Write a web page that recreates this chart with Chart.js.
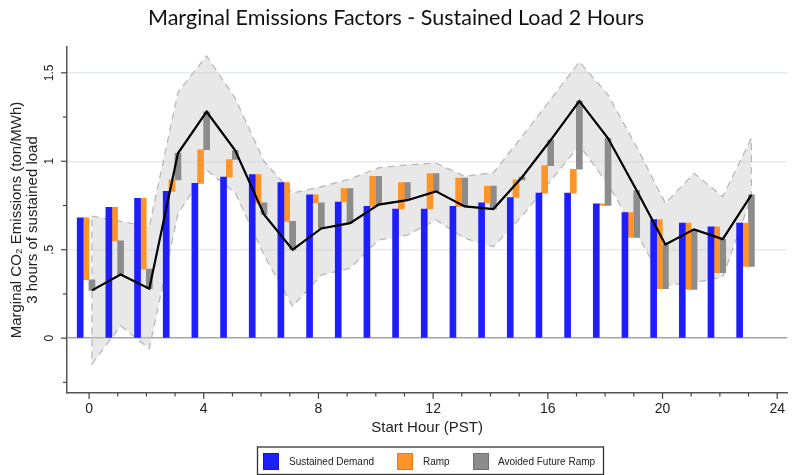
<!DOCTYPE html>
<html>
<head>
<meta charset="utf-8">
<title>Marginal Emissions Factors - Sustained Load 2 Hours</title>
<script src="https://cdn.jsdelivr.net/npm/chart.js@4.4.1/dist/chart.umd.min.js"></script>
<style>
  html, body { margin: 0; padding: 0; background: #ffffff; }
  #wrap { width: 793px; height: 475px; }
</style>
</head>
<body>
<div id="wrap"><canvas id="mef" width="793" height="475"></canvas></div>
<script>
// Start hour of the sustained load (PST)
const hours = [0, 1, 2, 3, 4, 5, 6, 7, 8, 9, 10, 11, 12, 13, 14, 15, 16, 17, 18, 19, 20, 21, 22, 23];

// Components of the marginal emissions factor (ton/MWh)
const sustainedDemand = [0.68, 0.74, 0.79, 0.83, 0.875, 0.91, 0.925, 0.88, 0.81, 0.77, 0.745, 0.73,
                         0.73, 0.745, 0.765, 0.795, 0.82, 0.82, 0.76, 0.71, 0.67, 0.65, 0.63, 0.65];
const ramp = [-0.35, -0.19, -0.40, 0.065, 0.19, 0.10, -0.16, -0.22, -0.045, 0.075, 0.17, 0.15,
              0.20, 0.16, 0.095, 0.10, 0.155, 0.135, -0.01, -0.14, -0.39, -0.375, -0.26, -0.245];
const avoidedFutureRamp = [-0.06, -0.19, -0.11, 0.15, 0.215, 0.05, -0.065, -0.16, -0.145, -0.195, -0.16, -0.10,
                           -0.10, -0.16, -0.13, 0.015, 0.145, 0.385, 0.38, 0.265, 0.25, 0.34, 0.19, 0.405];

// Confidence band around the total factor
const bandUpper = [0.69, 0.66, 0.63, 1.39, 1.595, 1.355, 1.0, 0.82, 0.856, 0.90, 0.963, 0.98,
                   0.99, 0.915, 0.935, 1.14, 1.35, 1.562, 1.375, 1.08, 0.762, 0.932, 0.80, 1.13];
const bandLower = [-0.145, 0.07, -0.06, 0.705, 0.95, 0.82, 0.47, 0.18, 0.357, 0.395, 0.555, 0.583,
                   0.668, 0.565, 0.517, 0.69, 0.89, 1.09, 0.87, 0.593, 0.30, 0.314, 0.345, 0.80];

// Axis ticks
const xTickValues = [0, 4, 8, 12, 16, 20, 24];
const xMinorStep = 1;
const yTickValues = [-0.25, 0, 0.25, 0.5, 0.75, 1, 1.25, 1.5];
const yLabelValues = [0, 0.5, 1, 1.5];
const yLabelText = ['0', '.5', '1', '1.5'];

const seriesNames = ['Sustained Demand', 'Ramp', 'Avoided Future Ramp'];
const colors = {
  sustained: 'rgb(30,30,255)',
  ramp: 'rgb(255,148,40)',
  avoided: 'rgb(140,140,140)'
};

// Horizontal placement of each bar within an hour slot
const OFFSET = { sustained: -0.31, ramp: -0.11, avoided: 0.1 };

const rampEnd = hours.map((h, i) => sustainedDemand[i] + ramp[i]);
const totalFactor = hours.map((h, i) => rampEnd[i] + avoidedFutureRamp[i]);

const sustainedData = hours.map((h, i) => ({ x: h + OFFSET.sustained, y: sustainedDemand[i] }));
const rampData = hours.map((h, i) => ({ x: h + OFFSET.ramp, y: [sustainedDemand[i], rampEnd[i]] }));
const avoidedData = hours.map((h, i) => ({ x: h + OFFSET.avoided, y: [rampEnd[i], totalFactor[i]] }));
const totalData = hours.map((h, i) => ({ x: h + OFFSET.avoided, y: totalFactor[i] }));

// Closed outline of the band: upper edge forward, lower edge back
const bandData = hours.map((h, i) => ({ x: h + OFFSET.avoided, y: bandUpper[i] }))
  .concat(hours.slice().reverse().map((h) => ({ x: h + OFFSET.avoided, y: bandLower[h] })))
  .concat([{ x: hours[0] + OFFSET.avoided, y: bandUpper[0] }]);

const AXIS_FONT = 'Liberation Sans, Arial, Helvetica, sans-serif';

// Tick marks on both axes plus rotated y labels
const axisDecor = {
  id: 'axisDecor',
  afterDraw(chart) {
    const { ctx, chartArea, scales: { x, y } } = chart;
    ctx.save();
    ctx.strokeStyle = '#444';
    ctx.lineWidth = 1.2;
    const xStart = Math.ceil(x.min);
    for (let h = xStart; h <= x.max; h += xMinorStep) {
      const px = x.getPixelForValue(h);
      const len = xTickValues.includes(h) ? 6 : 3.5;
      ctx.beginPath();
      ctx.moveTo(px, chartArea.bottom);
      ctx.lineTo(px, chartArea.bottom + len);
      ctx.stroke();
    }
    yTickValues.forEach((v) => {
      const py = y.getPixelForValue(v);
      const len = yLabelValues.includes(v) ? 6 : 4;
      ctx.beginPath();
      ctx.moveTo(chartArea.left, py);
      ctx.lineTo(chartArea.left - len, py);
      ctx.stroke();
    });
    ctx.fillStyle = '#222';
    ctx.font = '12px ' + AXIS_FONT;
    ctx.textAlign = 'center';
    ctx.textBaseline = 'middle';
    yLabelValues.forEach((v, i) => {
      const py = y.getPixelForValue(v);
      ctx.save();
      ctx.translate(chartArea.left - 17, py);
      ctx.rotate(-Math.PI / 2);
      ctx.fillText(yLabelText[i], 0, 0);
      ctx.restore();
    });
    ctx.restore();
  }
};

// Boxed legend below the axis title
const boxedLegend = {
  id: 'boxedLegend',
  afterDraw(chart) {
    const { ctx } = chart;
    const box = { left: 257.5, top: 447, right: 603.5, bottom: 474.5 };
    const items = [
      { ds: 0, sx: 263.5, tx: 289 },
      { ds: 1, sx: 397.5, tx: 423 },
      { ds: 2, sx: 473.5, tx: 498 }
    ];
    ctx.save();
    ctx.fillStyle = '#ffffff';
    ctx.fillRect(box.left, box.top, box.right - box.left, box.bottom - box.top);
    ctx.strokeStyle = '#333';
    ctx.lineWidth = 1.3;
    ctx.strokeRect(box.left, box.top, box.right - box.left, box.bottom - box.top);
    ctx.font = '10px ' + AXIS_FONT;
    ctx.textAlign = 'left';
    ctx.textBaseline = 'middle';
    items.forEach((it) => {
      const ds = chart.data.datasets[it.ds];
      ctx.fillStyle = ds.backgroundColor;
      ctx.fillRect(it.sx, 453.5, 15, 16);
      ctx.strokeStyle = ds.legendEdge;
      ctx.lineWidth = 1;
      ctx.strokeRect(it.sx, 453.5, 15, 16);
      ctx.fillStyle = '#222';
      ctx.fillText(ds.label, it.tx, 462);
    });
    ctx.restore();
  }
};

new Chart(document.getElementById('mef'), {
  type: 'bar',
  data: {
    datasets: [
      {
        label: seriesNames[0], data: sustainedData, backgroundColor: colors.sustained,
        legendEdge: 'rgb(20,20,200)', barThickness: 6, grouped: false, order: 5
      },
      {
        label: seriesNames[1], data: rampData, backgroundColor: colors.ramp,
        legendEdge: 'rgb(235,120,20)', barThickness: 6, grouped: false, order: 5
      },
      {
        label: seriesNames[2], data: avoidedData, backgroundColor: colors.avoided,
        legendEdge: 'rgb(110,110,110)', barThickness: 6, grouped: false, order: 5
      },
      {
        type: 'line', label: 'Total', data: totalData, borderColor: '#000000',
        borderWidth: 2.2, pointRadius: 0, tension: 0, fill: false, order: 0
      },
      {
        type: 'line', label: 'Band', data: bandData, borderColor: 'rgb(185,185,185)',
        borderDash: [7, 5], borderWidth: 1.3, backgroundColor: 'rgba(200,200,200,0.42)',
        pointRadius: 0, tension: 0, fill: 'shape', order: 10
      }
    ]
  },
  options: {
    responsive: false,
    animation: false,
    devicePixelRatio: 1,
    layout: { padding: { left: 0, right: 1, top: 0, bottom: 0 } },
    plugins: {
      legend: { display: false },
      tooltip: { enabled: false },
      title: {
        display: true,
        text: 'Marginal Emissions Factors - Sustained Load 2 Hours',
        color: '#111',
        font: { family: 'Lato, Liberation Sans, sans-serif', size: 21.5, weight: 'normal', lineHeight: 1.2 },
        padding: { top: 5.5, bottom: 15.7 }
      }
    },
    scales: {
      x: {
        type: 'linear',
        min: -0.77,
        max: 24.35,
        offset: false,
        afterBuildTicks: (s) => { s.ticks = xTickValues.map((v) => ({ value: v })); },
        afterFit: (s) => { s.height = 82; },
        grid: { display: false, drawTicks: false },
        border: { display: true, color: '#555', width: 1.5 },
        ticks: {
          autoSkip: false, maxRotation: 0, padding: 8, color: '#222',
          font: { family: AXIS_FONT, size: 14 },
          callback: (v) => String(v)
        },
        title: {
          display: true, text: 'Start Hour (PST)', color: '#222',
          font: { family: AXIS_FONT, size: 15, lineHeight: 1.2 },
          padding: { top: 0, bottom: 38 }
        }
      },
      y: {
        type: 'linear',
        min: -0.31,
        max: 1.646,
        afterBuildTicks: (s) => { s.ticks = yTickValues.map((v) => ({ value: v })); },
        afterFit: (s) => { s.width = 67; },
        ticks: { display: false },
        grid: {
          drawTicks: false,
          color: (c) => {
            const v = c.tick ? c.tick.value : null;
            if (v === 0) return 'rgb(165,165,165)';
            if (yLabelValues.includes(v)) return 'rgb(228,236,238)';
            return 'rgba(0,0,0,0)';
          },
          lineWidth: (c) => (c.tick && c.tick.value === 0 ? 1.6 : 1.5)
        },
        border: { display: true, color: '#555', width: 1.5 },
        title: {
          display: true,
          text: ['Marginal CO\u2082 Emissions (ton/MWh)', '3 hours of sustained load'],
          color: '#222',
          font: { family: AXIS_FONT, size: 15, lineHeight: 1.067 },
          padding: { top: 9, bottom: 0 }
        }
      }
    }
  },
  plugins: [axisDecor, boxedLegend]
});
</script>
</body>
</html>
